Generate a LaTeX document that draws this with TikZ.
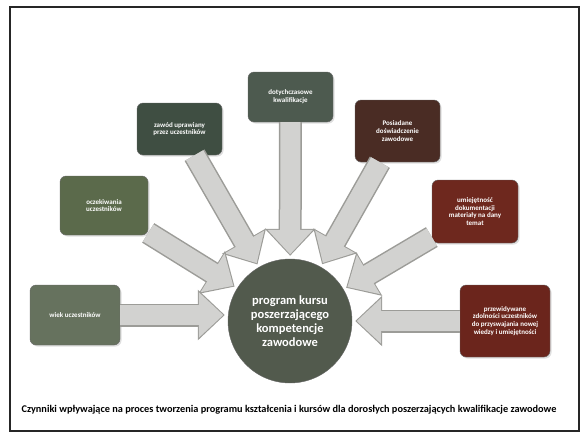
\documentclass[tikz,border=0pt]{standalone}
\usepackage{fontspec}
\setmainfont{Carlito}
\usetikzlibrary{arrows.meta,shadows}

% fills of the factor boxes and the central disc
\definecolor{cTop}{HTML}{4D5A4F}
\definecolor{cJob}{HTML}{3F4E42}
\definecolor{cExp}{HTML}{4A2C24}
\definecolor{cExpect}{HTML}{5B6A4B}
\definecolor{cSkill}{HTML}{6E281E}
\definecolor{cAge}{HTML}{66725E}
\definecolor{cLearn}{HTML}{6B251C}
\definecolor{cCore}{HTML}{525A4D}
\definecolor{arrowFill}{HTML}{D2D2D0}
\definecolor{arrowEdge}{HTML}{9C9C98}

\tikzset{
  factor/.style={rounded corners=6pt, draw=black!60, line width=0.4pt,
    text=white, align=center, inner sep=2pt,
    font=\fontsize{7}{7.8}\selectfont\bfseries,
    drop shadow={opacity=0.25, shadow xshift=1.5pt, shadow yshift=-1.5pt}},
  core/.style={circle, draw=black!60, line width=0.4pt, fill=cCore,
    minimum size=124pt, inner sep=0pt, text=white, align=center,
    font=\fontsize{12.5}{14}\selectfont\bfseries},
  flowedge/.style={line width=23pt, draw=arrowEdge,
    -{Triangle[width=49pt,length=27pt]}, shorten >=3pt},
  flowbody/.style={line width=20pt, draw=arrowFill,
    -{Triangle[width=44pt,length=24.5pt]}, shorten >=4.5pt},
}

\begin{document}
\begin{tikzpicture}[x=1pt,y=-1pt]
\useasboundingbox (0,0) rectangle (582,434);

% outer frame
\draw[line width=1.3pt, black!85] (10,7) rectangle (579,431);

% central disc
\node[core] (prog) at (290,321) {program kursu\\poszerzającego\\kompetencje\\zawodowe};

% factors
\node[factor, fill=cTop, minimum width=85pt, minimum height=50pt] (kwal) at (290.5,97)
  {dotychczasowe\\kwalifikacje};
\node[factor, fill=cJob, minimum width=85pt, minimum height=52pt] (zawod) at (179.5,129)
  {zawód uprawiany\\przez uczestników};
\node[factor, fill=cExp, minimum width=85pt, minimum height=62pt] (posiad) at (397.5,131)
  {Posiadane\\doświadczenie\\zawodowe};
\node[factor, fill=cExpect, minimum width=88pt, minimum height=59pt] (oczek) at (104,205.5)
  {oczekiwania\\uczestników};
\node[factor, fill=cSkill, minimum width=86pt, minimum height=63pt] (umiej) at (475,211.5)
  {umiejętność\\dokumentacji\\materiały na dany\\temat};
\node[factor, fill=cAge, minimum width=90pt, minimum height=60pt] (wiek) at (75,315)
  {wiek uczestników};
\node[factor, fill=cLearn, minimum width=90pt, minimum height=72pt] (przew) at (505,321)
  {przewidywane\\zdolności uczestników\\do przyswajania nowej\\wiedzy i umiejętności};

% block arrows into the disc
\foreach \src in {kwal,zawod,posiad,oczek,umiej} {
  \draw[flowedge] (\src) -- (prog);
  \draw[flowbody] (\src) -- (prog);
}
\draw[flowedge] (wiek.east) -- (prog.west |- wiek.east);
\draw[flowbody] (wiek.east) -- (prog.west |- wiek.east);
\draw[flowedge] (przew.west) -- (prog.east |- przew.west);
\draw[flowbody] (przew.west) -- (prog.east |- przew.west);

% caption
\node[font=\fontsize{10.3}{12}\selectfont\bfseries, anchor=base] (caption) at (289,412)
  {Czynniki wpływające na proces tworzenia programu kształcenia i kursów dla dorosłych poszerzających kwalifikacje zawodowe};
\end{tikzpicture}
\end{document}
